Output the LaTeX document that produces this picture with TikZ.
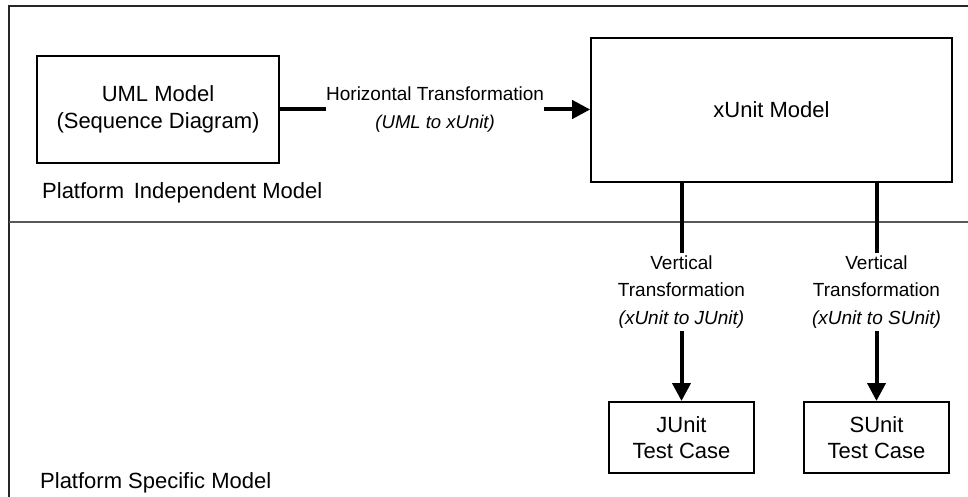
\documentclass[tikz,border=0pt]{standalone}
\usepackage{fontspec}
\setmainfont{Liberation Sans}
\usetikzlibrary{arrows.meta}
\newcommand{\boxfont}{\fontsize{22}{26.5}\selectfont}
\newcommand{\lblfont}{\fontsize{19}{27.5}\selectfont}
\begin{document}
\begin{tikzpicture}[x=1pt,y=-1pt,
  modelbox/.style={draw=black, line width=2pt, rectangle, align=center, font=\boxfont, inner sep=0pt},
  region/.style={font=\boxfont, anchor=west, inner sep=0pt},
  conn/.style={line width=4pt, -{Triangle[length=18pt,width=18pt]}},
  lbl/.style={fill=white, align=center, font=\lblfont, inner xsep=0pt, inner ysep=3pt},
  frameline/.style={line width=1.6pt, draw=black!85},
  divline/.style={line width=1.6pt, draw=black!65}]
\useasboundingbox (0,0) rectangle (968,497);
\fill[white] (0,0) rectangle (968,497);
% frame
\coordinate (tl) at (9,6);
\coordinate (tr) at (968,6);
\coordinate (bl) at (9,497);
\coordinate (dl) at (9,222);
\coordinate (dr) at (968,222);
\draw[frameline] (tr) -- (tl) -- (bl);
\draw[divline] (dl) -- (dr);
% nodes
\node[modelbox, minimum width=242pt, minimum height=107pt] (uml) at (158,109.5) {UML Model\\(Sequence Diagram)};
\node[modelbox, line width=1.6pt, minimum width=361pt, minimum height=144pt] (xunit) at (771.5,110) {xUnit Model};
\node[modelbox, minimum width=145pt, minimum height=71pt] (junit) at (681.5,437.5) {JUnit\\Test Case};
\node[modelbox, minimum width=145pt, minimum height=71pt] (sunit) at (876.5,437.5) {SUnit\\Test Case};
\node[region] (pim) at (42,193) {Platform\, Independent Model};
\node[region] (psm) at (40,483) {Platform Specific Model};
% connectors
\draw[conn] (uml.east) -- node[lbl] (hlbl) {Horizontal Transformation\\{\itshape\fontsize{18.5}{27}\selectfont (UML to xUnit)}} (uml.east -| xunit.west);
\draw[conn] (xunit.south -| junit.north) -- node[lbl] (vlbl1) {Vertical\\Transformation\\{\itshape (xUnit to JUnit)}} (junit.north);
\draw[conn] (xunit.south -| sunit.north) -- node[lbl] (vlbl2) {Vertical\\Transformation\\{\itshape (xUnit to SUnit)}} (sunit.north);
\end{tikzpicture}
\end{document}
